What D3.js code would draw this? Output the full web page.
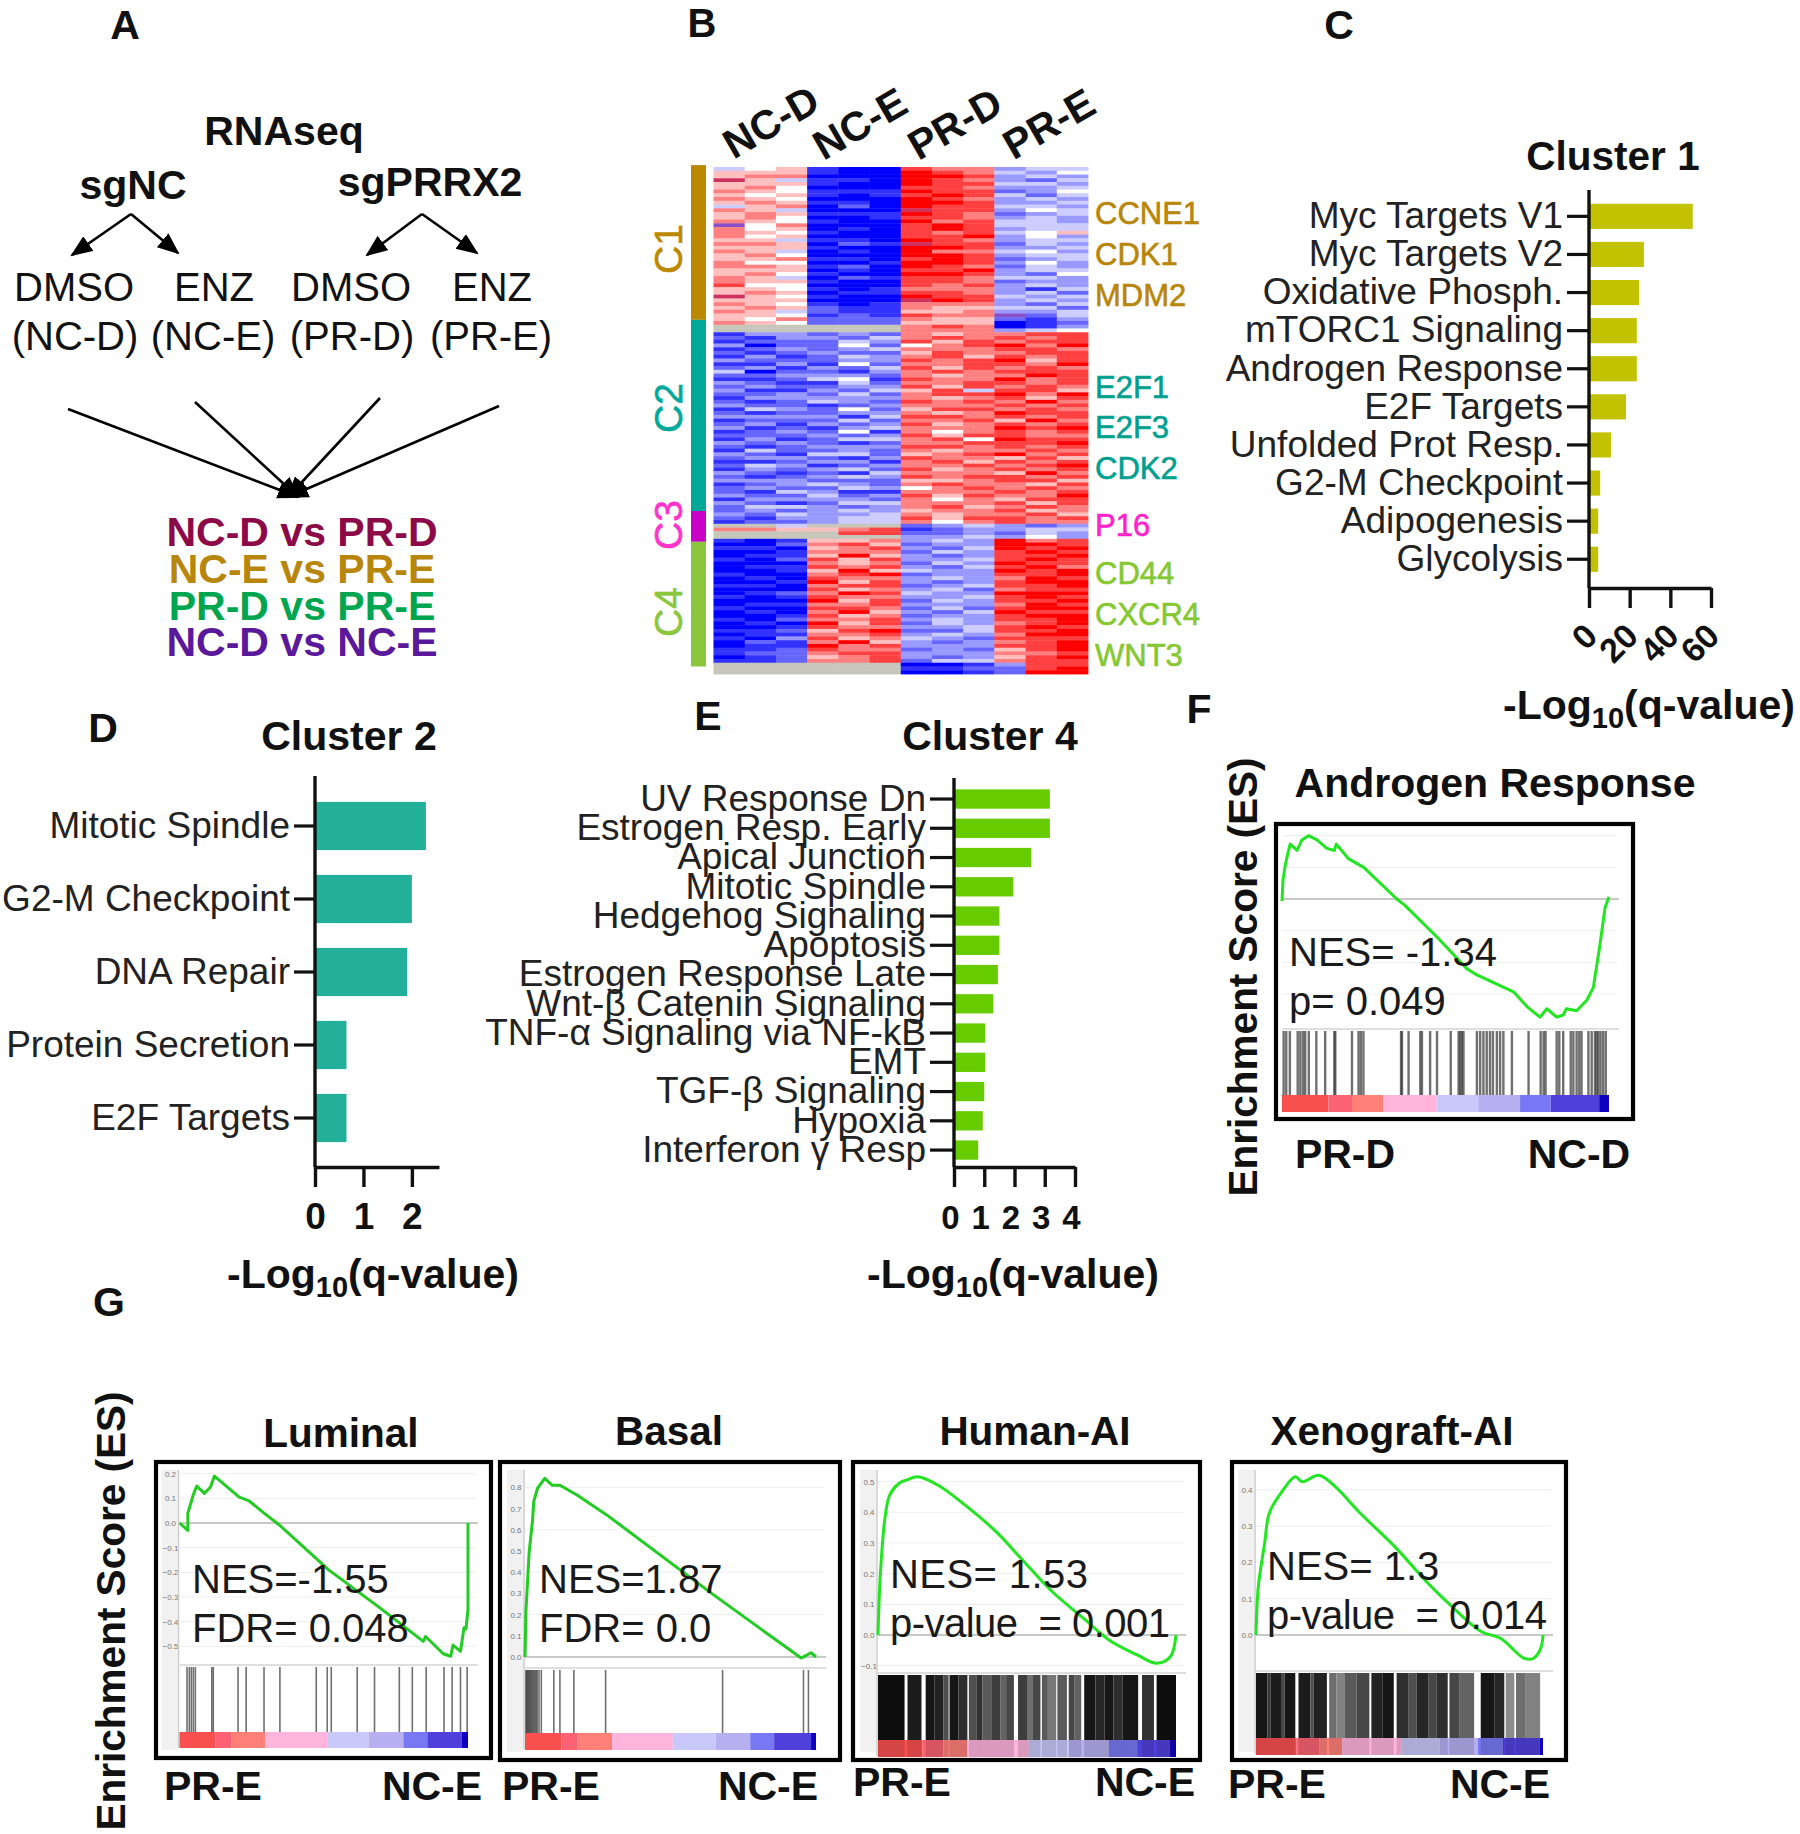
<!DOCTYPE html>
<html><head><meta charset="utf-8">
<script src="https://cdn.jsdelivr.net/npm/d3@7"></script>
<style>
html,body{margin:0;padding:0;background:#fff}
text{font-family:"Liberation Sans",Arial,sans-serif;fill:#111;white-space:pre}
</style></head><body>
<svg id="fig" width="1800" height="1834"></svg>
<script>
// ---------- Panel B heatmap rows: 3 x NC-D, 3 x NC-E, 3 x PR-D, 3 x PR-E (0 blue .. 5 white .. 9 red, g grey, p purple, r crimson)
const heatC1=["456100877344","666100987435","677000998343","r64110987324","666100988443","675000887334","765111988235","656101898424","765000987343","676110998334","467020988443","764000r88354","676111987234","675001887343","765100978443","p57000898444","756010898344","765100878456","756000889353","664110987344","776021r88243","666100998334","764010977453","675000998344","667110898234","755001998353","776120987243","666010889344","675100998325","764021887443","766100887233","855000878343","665101777314","676011887342","r65100988434","666000r98343","765101777324","676211766442","764211667334","665121877p24","657222766213","765222666012"];
const heatGap=["gggggg787013","gggggg777345"];
const heatC2=["133232767788","213324787878","122243868788","302252578979","123234777887","212322687788","131243786878","322233878968","113152778879","231324868787","402213787888","223332767798","112451877978","321142778878","232233868787","311324684886","223242788979","133333767868","212432878797","322123777878","143252688787","212233767988","333314887878","122242778697","231323867878","312134777989","123251757878","222323868877","131244785988","323212778889","212333887878","142232767787","321442678978","233213877686","112331786878","243123778789","132342867878","321214777697","212343878878","333222667886","123432787768","232243578787","214311777878","322423868779","133332757688","321244777868","244323786787","232343677867","324334767786","213344868878","122344757877"];
const heatC3=["gg4ggg234323","776678123344","gggg88223243","gggggg334353"];
const heatC4=["101667343978","002786233998","110678324989","001777243898","011696323889","102868334898","000767243988","011878324897","001696433989","100789233889","010877343798","001968323899","110788234889","000867342788","012798433999","101877334898","000968243889","011778333798","100887242899","010796324988","001867233899","102778343889","010968243789","001877334898","112689224889","011778343799","103867432888","021796323789","011978333889","112877232689","122788333778","012678323689","112778244788"];
const heatEnd=["gggggg001388","gggggg112289","gggggg001299"];
const heatGroups=["NC-D","NC-E","PR-D","PR-E"];
const clusterNames=["C1","C2","C3","C4"];
const clusterEdges=[-0.5,40.7,91.6,99.8,133];
const clusterColors=["#bb8800","#00a898","#c800c8","#8cc63f"];
const geneLabels=["CCNE1","CDK1","MDM2","E2F1","E2F3","CDK2","P16","CD44","CXCR4","WNT3"];
const geneColors=["#b8860b","#b8860b","#b8860b","#00a090","#00a090","#00a090","#ff22cc","#85c832","#85c832","#85c832"];

// ---------- Bar charts: -log10(q)
const c1Names=["Myc Targets V1","Myc Targets V2","Oxidative Phosph.","mTORC1 Signaling","Androgen Response","E2F Targets","Unfolded Prot Resp.","G2-M Checkpoint","Adipogenesis","Glycolysis"];
const c1Values=[51,27,24.6,23.5,23.5,18.2,10.8,5.5,4.5,4.5];
const c1Ticks=[0,20,40,60];
const c2Names=["Mitotic Spindle","G2-M Checkpoint","DNA Repair","Protein Secretion","E2F Targets"];
const c2Values=[2.29,2.0,1.9,0.65,0.65];
const c2Ticks=[0,1,2];
const c4Names=["UV Response Dn","Estrogen Resp. Early","Apical Junction","Mitotic Spindle","Hedgehog Signaling","Apoptosis","Estrogen Response Late","Wnt-β Catenin Signaling","TNF-α Signaling via NF-kB","EMT","TGF-β Signaling","Hypoxia","Interferon γ Resp"];
const c4Values=[3.17,3.17,2.55,1.96,1.5,1.5,1.45,1.3,1.03,1.03,1.0,0.95,0.8];
const c4Ticks=[0,1,2,3,4];

// ---------- GSEA curves: [rank %, ES]
const curveAndrogen=[[0,-0.01],[0.3,0.09],[1,0.16],[1.7,0.21],[2.5,0.26],[4.6,0.23],[6.1,0.28],[8.1,0.30],[10.7,0.28],[13.7,0.24],[16,0.23],[16.6,0.26],[20.4,0.19],[25,0.15],[35.1,0],[37.6,-0.03],[47.4,-0.18],[56.5,-0.33],[59.6,-0.36],[70.8,-0.44],[74.9,-0.51],[78.9,-0.56],[81,-0.52],[84,-0.56],[86,-0.55],[87,-0.52],[90.1,-0.53],[93.2,-0.48],[95.2,-0.42],[97.2,-0.22],[98.8,-0.04],[100,0.01]];
const curveLuminal=[[0,0],[2.9,-0.03],[2.9,0.04],[4.8,0.115],[6,0.15],[8.6,0.12],[10.7,0.145],[12.1,0.19],[20.7,0.105],[24.1,0.09],[29.3,0.04],[34.5,-0.007],[51.7,-0.19],[69,-0.34],[84.5,-0.48],[85.3,-0.46],[91.4,-0.53],[94,-0.54],[94.8,-0.495],[97.4,-0.52],[98.6,-0.425],[99.3,-0.43],[100,-0.35],[100,0]];
const curveBasal=[[0,0],[0.3,0.21],[1.4,0.49],[2.6,0.647],[3,0.733],[4.3,0.796],[6.8,0.843],[9.4,0.81],[12,0.81],[18,0.763],[28.2,0.669],[64.1,0.3],[94.9,-0.005],[98.3,0.02],[100,0]];
const curveHuman=[[0,0],[0.8,0.2],[2.4,0.386],[3.96,0.457],[7.1,0.495],[9.5,0.505],[13.4,0.516],[20.6,0.486],[28.5,0.429],[39.6,0.337],[49,0.239],[58.5,0.141],[69.6,0.049],[77.5,-0.016],[87,-0.065],[93.4,-0.092],[98.1,-0.071],[100,0]];
const curveXeno=[[0,0],[0.8,0.133],[3,0.252],[4.6,0.335],[8.6,0.39],[13.7,0.436],[16.1,0.422],[21.9,0.44],[27.7,0.408],[35.9,0.339],[49,0.238],[58.9,0.151],[67.1,0.087],[78.6,0.009],[85.2,-0.009],[93.4,-0.064],[96.7,-0.064],[99.2,-0.037],[100,0]];

// Gene-set hit positions (rank %)
const rugAndrogen=[0.5,1.3,2.4,4.8,5.6,6.4,7.1,8.2,10.5,13.2,16,16.3,21.4,23.4,24.1,24.9,36.4,36.7,38.7,42.3,42.8,45.3,47.4,51.6,54,54.5,55,55.5,59.6,60.6,61.6,62.6,63.6,64.5,65.7,66.7,67.7,70.3,75.4,79.1,80,80.6,84,84.8,86,88.3,89.1,90.1,90.9,91.6,93.7,94.7,95.7,96.2,96.7,97.4,98.2,99];
const rugLuminal=[2.6,3.4,4.1,4.8,5.5,11.2,11.7,20.3,23.1,29.3,34.8,47.4,51.2,52.6,61.6,67.6,76.2,80.7,85.5,91.7,94.5,97.4,99.7];
const rugBasal=[0.3,0.6,0.9,1.2,1.5,1.9,2.2,2.6,3,3.4,3.8,4.2,4.8,5.6,9.9,12,16.8,27.7,67.9,95.7,97.4];
// Dense hit regions: [from %, to %, grey level]
const bandsHuman=[[0,8.9,10],[9.9,14.6,30],[16,19,20],[19,22,35],[22,23.7,80],[24,27,20],[27,30,45],[30.5,33,80],[33,35,50],[35,38,90],[38,41,60],[41,43,100],[43,45.6,70],[47,50,60],[50,52,110],[52,54.5,70],[55,57,90],[57,59.8,120],[60.2,63.4,90],[64,66,70],[66,68.2,100],[69.2,73,20],[73,76,40],[76,79,20],[79,82,45],[82,87.3,25],[88.6,92.6,50],[93.5,100,15]];
const bandsXeno=[[0,4,25],[4,5,55],[5,9,30],[9,10,70],[10,13.7,25],[14.8,19,30],[19,20,80],[20,24.7,35],[25.5,28,110],[28,31,130],[31,35,90],[35,39.5,70],[40.2,44,35],[44,48,25],[49,53,45],[53,56,80],[56,60,40],[60,63,70],[63,66.8,45],[67.4,71,70],[71,76,100],[78.3,83,25],[83,86.5,40],[87,90,140],[90.6,94,110],[94,99,130]];

// Ranking colour bar
const rankColors=["#f85050","#fb6474","#ff8078","#ffb4dc","#c8c8fa","#b6b0f0","#7878f4","#5040dc","#1000c0"];
const edgesAndrogen=[0,14.2,21.4,31,47.3,60,72.8,82.2,97,100];
const edgesLuminal=[0,12.4,18.1,29.8,51.2,65.5,77.6,85.9,97.9,100];
const edgesBasal=[0,12.5,17.9,29.9,50.8,65.5,77.4,85.6,98.3,100];
const edgesHuman=[0,15,22,30,50.6,64,77.5,87,98,100];
const edgesXeno=[0,14,22,30,50.7,64,77.3,86,98.9,100];

const svg=d3.select("#fig");
const BLACK="#111";
const defs=svg.append("defs");
defs.append("filter").attr("id","soft").attr("x","-2%").attr("y","-2%").attr("width","104%").attr("height","104%")
  .append("feGaussianBlur").attr("stdDeviation","0.7");
defs.append("marker").attr("id","head").attr("markerUnits","userSpaceOnUse").attr("markerWidth",24).attr("markerHeight",20)
  .attr("refX",20).attr("refY",9).attr("orient","auto")
  .append("path").attr("d","M0,0L22,9L0,18Z").attr("fill","#000");

function label(txt,x,y,o={}){
  const t=svg.append("text").attr("x",x).attr("y",y).text(txt)
    .attr("text-anchor",o.anchor||"middle").attr("font-size",o.size||40)
    .attr("font-weight",o.weight||"normal");
  if(o.color) t.style("fill",o.color);
  if(o.rotate!==undefined) t.attr("transform",`rotate(${o.rotate},${x},${y})`);
  if(o.stroke) t.attr("stroke",o.color||BLACK).attr("stroke-width",o.stroke);
  if(o.length) t.attr("textLength",o.length).attr("lengthAdjust","spacing");
  return t;
}

// Panel letters
[["A",125,39,41],["B",702,37,40],["C",1339,39,41],["D",103,742,41],["E",708,730,41],["F",1199,723,41],["G",109,1316,41]]
  .forEach(d=>label(d[0],d[1],d[2],{weight:"bold",size:d[3]}));

// ---------- Panel A
label("RNAseq",284,145,{weight:"bold",size:41});
label("sgNC",133,199,{weight:"bold",size:41});
label("sgPRRX2",430,196,{weight:"bold",size:41});
[["DMSO",74],["ENZ",214],["DMSO",351],["ENZ",492]].forEach(d=>label(d[0],d[1],301));
[["(NC-D)",75],["(NC-E)",213],["(PR-D)",352],["(PR-E)",491]].forEach(d=>label(d[0],d[1],350));
const arrows=[[131,214,72,255],[131,214,178,253],[422,214,367,255],[422,214,477,253],[68,409,298,497],[195,402,298,497],[380,398,288,497],[499,406,288,497]];
svg.append("g").selectAll("line").data(arrows).join("line")
  .attr("x1",d=>d[0]).attr("y1",d=>d[1]).attr("x2",d=>d[2]).attr("y2",d=>d[3])
  .attr("stroke","#000").attr("stroke-width",2.6).attr("marker-end","url(#head)");
[["NC-D vs PR-D","#8b0a47",546],["NC-E vs PR-E","#b8860b",583],["PR-D vs PR-E","#00a64f",620],["NC-D vs NC-E","#5a189a",656]]
  .forEach(d=>label(d[0],302,d[2],{weight:"bold",size:41,color:d[1]}));

// ---------- Panel B
const heatRows=[...heatC1,...heatGap,...heatC2,...heatC3,...heatC4,...heatEnd];
const heatCols=d3.range(12);
const heatX=d3.scaleBand().domain(heatCols).range([713.5,1088]);
const heatY=d3.scaleBand().domain(d3.range(heatRows.length)).range([167,674]);
const heatColor=d3.scaleLinear().domain([0,5,9]).range(["#0000ff","#ffffff","#ff0000"]);
const special={g:"#c6c6ba",p:"#8a50c8",r:"#d03060"};
const cell=c=>special[c]||heatColor(+c);
const hg=svg.append("g").attr("filter","url(#soft)");
hg.selectAll("g").data(heatRows).join("g").attr("transform",(d,i)=>`translate(0,${heatY(i)})`)
  .selectAll("rect").data(r=>heatCols.map(j=>({j,c:r[j]}))).join("rect")
  .attr("x",d=>heatX(d.j)).attr("width",heatX.bandwidth()+0.4).attr("height",heatY.bandwidth()+0.4)
  .attr("fill",d=>cell(d.c));
const rowEdge=d3.scaleLinear().domain([0,heatRows.length]).range([167,674]);
const sideG=svg.append("g");
clusterNames.forEach((n,i)=>{
  const y0=rowEdge(clusterEdges[i]),y1=rowEdge(clusterEdges[i+1]);
  sideG.append("rect").attr("x",691).attr("width",15).attr("y",y0).attr("height",y1-y0).attr("fill",clusterColors[i]);
});
[["C1",249],["C2",408],["C3",525],["C4",612]].forEach((d,i)=>
  label(d[0],682,d[1],{size:39,rotate:-90,stroke:0.6,color:i==2?"#ff33cc":(i==1?"#00a99a":(i==0?"#bb8800":"#8cc63f"))}));
const geneY=[224,265,306,398,438,479,536,584,625,666];
geneLabels.forEach((g,i)=>label(g,1095,geneY[i],{anchor:"start",size:31,color:geneColors[i],stroke:0.6}));
[[778,134],[867,136],[962,136],[1056,136]].forEach((p,i)=>
  label(heatGroups[i],p[0],p[1],{weight:"bold",size:41,rotate:-30}));

// ---------- Bar charts
function barChart(o){
  const y=d3.scaleBand().domain(o.names).range(o.band).paddingInner(0.34).paddingOuter(0.17);
  const x=d3.scaleLinear().domain(o.domain).range([o.x0,o.x1]);
  const g=svg.append("g");
  g.selectAll("rect").data(o.names).join("rect")
    .attr("x",o.x0+1).attr("y",d=>y(d)).attr("height",y.bandwidth())
    .attr("width",(d,i)=>x(o.values[i])-o.x0-1).attr("fill",o.color);
  const ax=g.append("g").attr("transform",`translate(${o.x0},0)`)
    .call(d3.axisLeft(y).tickSize(o.tick).tickPadding(4));
  ax.select(".domain").remove();
  ax.selectAll("line").attr("stroke",BLACK).attr("stroke-width",3.2);
  ax.selectAll("text").attr("font-size",37).attr("font-family",'"Liberation Sans"').style("fill","#222");
  g.append("line").attr("x1",o.x0).attr("x2",o.x0).attr("y1",o.top).attr("y2",o.bottom).attr("stroke",BLACK).attr("stroke-width",3.4);
  const bx=g.append("g").attr("transform",`translate(0,${o.bottom})`)
    .call(d3.axisBottom(x).tickValues(o.ticks).tickSize(o.xTick).tickSizeOuter(0).tickFormat(d3.format("d")));
  bx.select(".domain").attr("stroke",BLACK).attr("stroke-width",3.4);
  bx.selectAll("line").attr("stroke",BLACK).attr("stroke-width",3.4);
  bx.selectAll("text").attr("font-size",o.tickFont).attr("font-weight","bold").attr("font-family",'"Liberation Sans"').style("fill",BLACK);
  if(o.rotTicks){
    bx.selectAll("text").attr("text-anchor","end").attr("dy",0).attr("y",0)
      .attr("transform",`translate(10,${o.xTick+30}) rotate(-45)`);
  } else {
    bx.selectAll("text").attr("dy",0).attr("y",o.tickY).attr("x",o.tickDx||0);
  }
}
function logLabel(x,y){
  const t=svg.append("text").attr("x",x).attr("y",y).attr("text-anchor","middle").attr("font-size",41).attr("font-weight","bold");
  t.append("tspan").text("-Log");
  t.append("tspan").text("10").attr("font-size",29).attr("dy",9);
  t.append("tspan").text("(q-value)").attr("dy",-9);
}
barChart({names:c1Names,values:c1Values,color:"#c2c200",band:[197.3,578.3],domain:[0,60],x0:1589,x1:1711,top:190,bottom:588,tick:22,xTick:20,ticks:c1Ticks,tickFont:34,rotTicks:true});
barChart({names:c2Names,values:c2Values,color:"#22b09a",band:[789.5,1154.5],domain:[0,2.56],x0:315,x1:439,top:776,bottom:1167,tick:21,xTick:20,ticks:c2Ticks,tickFont:37,tickY:62});
barChart({names:c4Names,values:c4Values,color:"#66cc00",band:[784.4,1164.7],domain:[0,4],x0:954,x1:1075,top:778,bottom:1167,tick:24,xTick:20,ticks:c4Ticks,tickFont:33,tickY:62,tickDx:-4});
label("Cluster 1",1613,170,{weight:"bold",size:40.5});
label("Cluster 2",349,750,{weight:"bold",size:41});
label("Cluster 4",990,750,{weight:"bold",size:41});
logLabel(1649,719);logLabel(373,1288);logLabel(1013,1288);

// ---------- GSEA panels
function gsea(o){
  const x=d3.scaleLinear().domain([0,100]).range(o.plotX);
  const y=d3.scaleLinear().domain([0,1]).range([o.zeroY,o.zeroY-o.unit]);
  const g=svg.append("g");
  const [fx0,fy0,fx1,fy1]=o.frame;
  g.append("rect").attr("x",fx0).attr("y",fy0).attr("width",fx1-fx0).attr("height",fy1-fy0).attr("fill","#fff");
  if(o.esTicks){
    g.append("rect").attr("x",o.plotX[0]-18).attr("width",16).attr("y",fy0+8).attr("height",fy1-fy0-16).attr("fill","#f1f1f1");
    g.selectAll("text.t").data(o.esTicks).join("text").attr("class","t")
      .attr("x",o.plotX[0]-9).attr("y",d=>y(d)+3).attr("text-anchor","middle").attr("font-size",8).style("fill","#777").text(d=>d3.format(".1f")(d));
    g.append("line").attr("x1",o.plotX[0]-1).attr("x2",o.plotX[0]-1).attr("y1",fy0+8).attr("y2",o.rug[1]+16).attr("stroke","#ccc").attr("stroke-width",1.5);
  }
  g.selectAll("line.grid").data(o.grid).join("line").attr("class","grid")
    .attr("x1",o.plotX[0]).attr("x2",o.plotX[1]+8).attr("y1",d=>y(d)).attr("y2",d=>y(d)).attr("stroke","#efefef");
  g.append("line").attr("x1",o.plotX[0]).attr("x2",o.plotX[1]+10).attr("y1",y(0)).attr("y2",y(0)).attr("stroke","#c8c8c8").attr("stroke-width",2);
  g.append("line").attr("x1",o.plotX[0]).attr("x2",o.plotX[1]+10).attr("y1",o.rug[0]-2).attr("y2",o.rug[0]-2).attr("stroke","#d4d4d4").attr("stroke-width",1.5);
  const s=g.append("g").attr("filter","url(#soft)");
  if(o.hits) s.selectAll("line.hit").data(o.hits).join("line").attr("class","hit")
    .attr("x1",d=>x(d)).attr("x2",d=>x(d)).attr("y1",o.rug[0]).attr("y2",o.rug[1])
    .attr("stroke","#333").attr("stroke-opacity",.7).attr("stroke-width",o.hitW||1.6);
  const bar=[o.rug[1],o.rug[1]+o.barH];
  o.edges.slice(0,-1).forEach((e,i)=>{
    s.append("rect").attr("x",x(e)).attr("width",x(o.edges[i+1])-x(e)).attr("y",bar[0]).attr("height",o.barH).attr("fill",rankColors[i]);
  });
  if(o.bands){
    const toGrey=v=>d3.rgb(v,v,v).formatHex();
    s.selectAll("rect.b").data(o.bands).join("rect").attr("class","b")
      .attr("x",d=>x(d[0])).attr("width",d=>x(d[1])-x(d[0])).attr("y",o.rug[0]).attr("height",o.rug[1]-o.rug[0]).attr("fill",d=>toGrey(d[2]));
    s.selectAll("rect.o").data(o.bands).join("rect").attr("class","o")
      .attr("x",d=>x(d[0])).attr("width",d=>x(d[1])-x(d[0])).attr("y",bar[0]).attr("height",o.barH).attr("fill","#000").attr("fill-opacity",.14);
  }
  const line=d3.line().x(d=>x(d[0])).y(d=>y(d[1]));
  if(o.smooth) line.curve(d3.curveCatmullRom.alpha(0.5));
  g.append("path").attr("d",line(o.curve)).attr("fill","none").attr("stroke",o.green||"#22e622").attr("stroke-width",3).attr("stroke-linejoin","round");
  g.append("rect").attr("x",fx0).attr("y",fy0).attr("width",fx1-fx0).attr("height",fy1-fy0).attr("fill","none").attr("stroke","#000").attr("stroke-width",4.2);
  o.notes.forEach(n=>label(n[0],n[1],n[2],{anchor:"start",size:40,color:"#1a1a1a",length:n[3]}));
}
gsea({frame:[1276,824,1633,1119],plotX:[1282,1609],zeroY:899,unit:211,rug:[1031,1095],barH:17,curve:curveAndrogen,hits:rugAndrogen,hitW:2.4,edges:edgesAndrogen,grid:[0.3,0.15,-0.15,-0.3,-0.45],
  notes:[["NES= -1.34",1289,966],["p= 0.049",1289,1015]]});
gsea({frame:[156,1462,491,1758],plotX:[179.5,468],zeroY:1523,unit:246.7,rug:[1667,1732],barH:16,curve:curveLuminal,hits:rugLuminal,edges:edgesLuminal,green:"#22cc22",grid:[0.2,0.1,-0.1,-0.2,-0.3,-0.4,-0.5],esTicks:[0.2,0.1,0,-0.1,-0.2,-0.3,-0.4,-0.5],
  notes:[["NES=-1.55",192,1593],["FDR= 0.048",192,1642]]});
gsea({frame:[500,1462,840,1760],plotX:[525,816],zeroY:1657,unit:212,rug:[1670,1733],barH:17,curve:curveBasal,hits:rugBasal,edges:edgesBasal,green:"#22cc22",grid:[0.8,0.6,0.4,0.2],esTicks:[0.8,0.7,0.6,0.5,0.4,0.3,0.2,0.1,0],
  notes:[["NES=1.87",539,1593],["FDR= 0.0",539,1642]]});
gsea({frame:[853,1462,1200,1760],plotX:[878,1176],zeroY:1635,unit:306.7,rug:[1675,1740],barH:17,curve:curveHuman,bands:bandsHuman,edges:edgesHuman,smooth:true,grid:[0.5,0.4,0.3,0.2,0.1,-0.1],esTicks:[0.5,0.4,0.3,0.2,0.1,0,-0.1],
  notes:[["NES= 1.53",890,1588,198],["p-value  = 0.001",890,1637,280]]});
gsea({frame:[1232,1462,1566,1760],plotX:[1256,1543],zeroY:1635,unit:363,rug:[1673,1738],barH:17,curve:curveXeno,bands:bandsXeno,edges:edgesXeno,smooth:true,grid:[0.4,0.3,0.2,0.1],esTicks:[0.4,0.3,0.2,0.1,0],
  notes:[["NES= 1.3",1267,1580],["p-value  = 0.014",1267,1629,280]]});

label("Androgen Response",1495,797,{weight:"bold",size:41});
[["Luminal",341,1447],["Basal",669,1445],["Human-AI",1035,1445],["Xenograft-AI",1392,1445]].forEach(d=>label(d[0],d[1],d[2],{weight:"bold",size:40.5}));
[["PR-D",1345,1168],["NC-D",1579,1168],["PR-E",213,1800],["NC-E",432,1800],["PR-E",551,1800],["NC-E",768,1800],["PR-E",902,1796],["NC-E",1145,1796],["PR-E",1277,1798],["NC-E",1500,1798]]
  .forEach(d=>label(d[0],d[1],d[2],{weight:"bold",size:41}));
label("Enrichment Score (ES)",1257,977,{weight:"bold",size:40.5,rotate:-90});
label("Enrichment Score (ES)",125,1611,{weight:"bold",size:40.5,rotate:-90});
</script>
</body></html>
